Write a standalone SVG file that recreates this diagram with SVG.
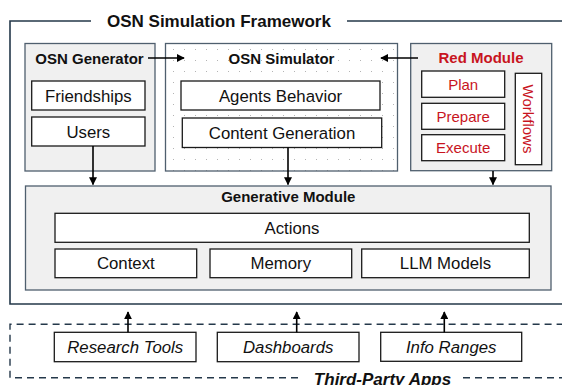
<svg xmlns="http://www.w3.org/2000/svg" width="562" height="385" viewBox="0 0 562 385">
<defs>
<style>
text{font-family:"Liberation Sans",Arial,Helvetica,sans-serif;fill:#111}
.title{font-size:17px;font-weight:bold}
.mt{font-size:15px;font-weight:bold;text-anchor:middle}
.lbl{font-size:16.8px;text-anchor:middle}
.it{font-size:16.8px;font-style:italic;text-anchor:middle}
.red{font-size:15px;text-anchor:middle;fill:#c8141e}
.redt{font-size:15px;font-weight:bold;text-anchor:middle;fill:#c8141e}
.mod{fill:#f0f0f0;stroke:#4f5f6e;stroke-width:1.3}
.box{fill:#fff;stroke:#1a1a1a;stroke-width:1.3}
.frame{fill:none;stroke:#24384a;stroke-width:1.6}
.dash{fill:none;stroke:#24384a;stroke-width:1.4;stroke-dasharray:7 5}
.conn{stroke:#000;stroke-width:1.6;fill:none;marker-end:url(#ah)}
</style>
<marker id="ah" viewBox="0 0 10 10" refX="9" refY="5" markerWidth="5" markerHeight="5" orient="auto" markerUnits="strokeWidth">
<path d="M0,0 L10,5 L0,10 z" fill="#000"/>
</marker>
<pattern id="dots" patternUnits="userSpaceOnUse" x="168" y="44" width="11" height="11">
<rect x="5" y="5" width="1" height="1" fill="#b4b4b4"/>
</pattern>
</defs>

<g id="framework">
<path class="frame" d="M91,21 H10 V304 H565 M347,21 H565"/>
<text class="title" x="107" y="26.5">OSN Simulation Framework</text>
</g>

<g id="third-party">
<path class="dash" d="M298,377.7 H10 V324.3 H565 M463,377.7 H565"/>
<text class="title" x="382.5" y="384.5" text-anchor="middle" font-style="italic">Third-Party Apps</text>
</g>

<g id="osn-generator">
<rect class="mod" x="25" y="43.5" width="130" height="127.5"/>
<text class="mt" x="89.5" y="63.5">OSN Generator</text>
</g>
<g id="friendships">
<rect class="box" x="31.7" y="81" width="113.3" height="29"/>
<text class="lbl" x="88.3" y="101.5">Friendships</text>
</g>
<g id="users">
<rect class="box" x="31.7" y="117" width="113.3" height="29"/>
<text class="lbl" x="88.3" y="137.5">Users</text>
</g>

<g id="osn-simulator">
<rect x="165.5" y="43.5" width="232" height="127.5" fill="#fff"/>
<rect x="165.5" y="43.5" width="232" height="127.5" fill="url(#dots)" stroke="#4f5f6e" stroke-width="1.3"/>
<text class="mt" x="281.5" y="63.5">OSN Simulator</text>
</g>
<g id="agents-behavior">
<rect class="box" x="181" y="81" width="199" height="29" stroke="#555" stroke-width="1.6"/>
<text class="lbl" x="280.5" y="101.5">Agents Behavior</text>
</g>
<g id="content-generation">
<rect class="box" x="182.3" y="118" width="199.4" height="29.5"/>
<text class="lbl" x="282" y="138.8">Content Generation</text>
</g>

<g id="red-module">
<rect class="mod" x="410.7" y="43.5" width="141" height="127.2"/>
<text class="redt" x="481" y="62.5">Red Module</text>
</g>
<g id="plan">
<rect class="box" x="421.7" y="71" width="83" height="26.3"/>
<text class="red" x="463.2" y="89.5">Plan</text>
</g>
<g id="prepare">
<rect class="box" x="421.7" y="103.3" width="83" height="26"/>
<text class="red" x="463.2" y="121.7">Prepare</text>
</g>
<g id="execute">
<rect class="box" x="421.7" y="134.7" width="83" height="26"/>
<text class="red" x="463.2" y="153">Execute</text>
</g>
<g id="workflows">
<rect class="box" x="515.3" y="73.3" width="26.4" height="91.4"/>
<text class="red" transform="translate(523.2,119) rotate(90)" x="0" y="0">Workflows</text>
</g>

<g id="generative-module">
<rect class="mod" x="25.5" y="186" width="525.5" height="104"/>
<text class="mt" x="288.3" y="201.5">Generative Module</text>
</g>
<g id="actions">
<rect class="box" x="55" y="213.3" width="474.3" height="29"/>
<text class="lbl" x="292" y="233.8">Actions</text>
</g>
<g id="context">
<rect class="box" x="55" y="249" width="141.7" height="28.7"/>
<text class="lbl" x="125.8" y="269.3">Context</text>
</g>
<g id="memory">
<rect class="box" x="210" y="249" width="141.7" height="28.7"/>
<text class="lbl" x="280.8" y="269.3">Memory</text>
</g>
<g id="llm-models">
<rect class="box" x="361.7" y="249" width="167.6" height="28.7"/>
<text class="lbl" x="445.5" y="269.3">LLM Models</text>
</g>

<g id="research-tools">
<rect class="box" x="54.3" y="332.3" width="141.7" height="29.4"/>
<text class="it" x="125.2" y="353">Research Tools</text>
</g>
<g id="dashboards">
<rect class="box" x="217.3" y="332.3" width="141.7" height="29.4"/>
<text class="it" x="288.2" y="353">Dashboards</text>
</g>
<g id="info-ranges">
<rect class="box" x="380.7" y="332.3" width="141" height="29"/>
<text class="it" x="451.2" y="353">Info Ranges</text>
</g>

<g id="connectors">
<line class="conn" x1="148" y1="58" x2="184" y2="58"/>
<line class="conn" x1="418" y1="58" x2="381" y2="58"/>
<line class="conn" x1="93" y1="146" x2="93" y2="184.5"/>
<line class="conn" x1="288" y1="147.5" x2="288" y2="184.5"/>
<line class="conn" x1="493" y1="171" x2="493" y2="184.5"/>
<line class="conn" x1="128" y1="332.3" x2="128" y2="312"/>
<line class="conn" x1="296.7" y1="332.3" x2="296.7" y2="312"/>
<line class="conn" x1="444.3" y1="332.3" x2="444.3" y2="312"/>
</g>
</svg>
